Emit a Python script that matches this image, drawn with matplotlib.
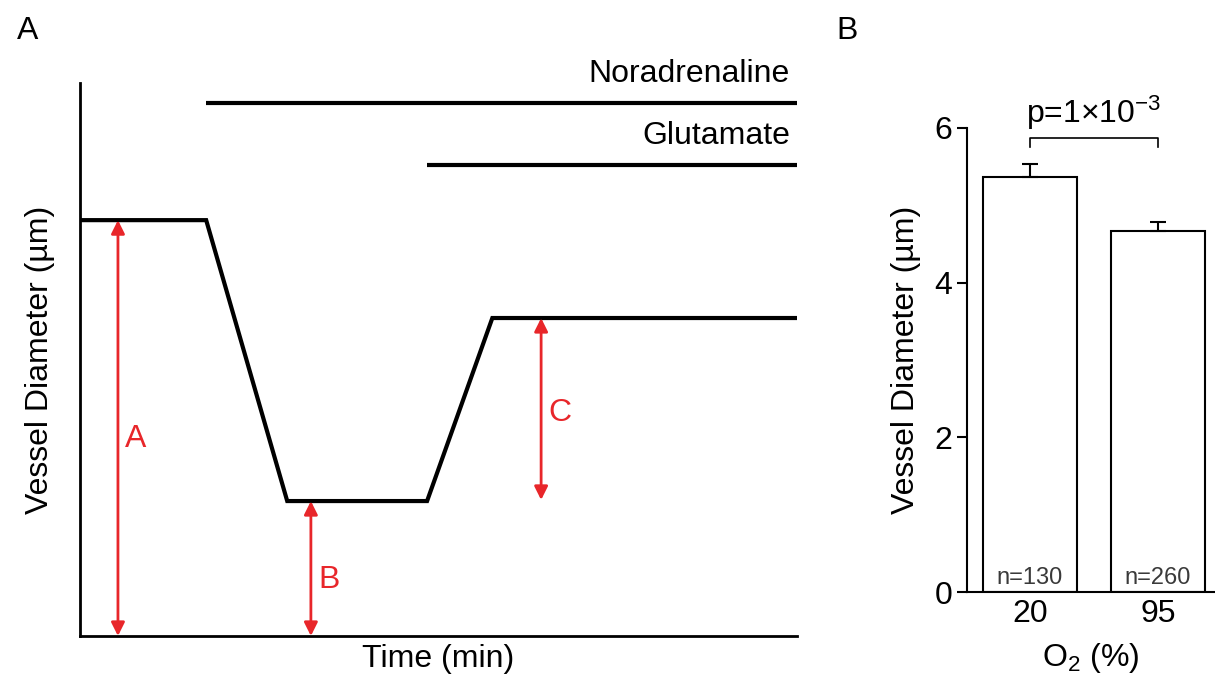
import numpy as np
import matplotlib
matplotlib.use("Agg")
import matplotlib.pyplot as plt

plt.rcParams['font.family'] = ['Liberation Sans', 'DejaVu Sans']
plt.rcParams['mathtext.fontset'] = 'custom'
plt.rcParams['mathtext.rm'] = 'Liberation Sans'
plt.rcParams['mathtext.it'] = 'Liberation Sans:italic'

# panel A: schematic trace
trace_t = [0, 1.76, 2.89, 4.84, 5.75, 10]
trace_d = [7.52, 7.52, 2.44, 2.44, 5.75, 5.75]
drug_names = ["Noradrenaline", "Glutamate"]
drug_start = [1.76, 4.84]
drug_level = [9.64, 8.52]
arrow_labels = ["A", "B", "C"]
arrow_t = [0.53, 3.22, 6.43]
arrow_lo = [0.0, 0.0, 2.46]
arrow_hi = [7.52, 2.44, 5.75]

# panel B: bars
o2_labels = ["20", "95"]
diam_mean = [5.37, 4.67]
diam_sem = [0.17, 0.12]
n_cells = [130, 260]
p_text = "p=1\u00d710$^{\\mathregular{-3}}$"

red = '#e8262a'
fs = 23
fig = plt.figure(figsize=(12.15, 6.9), dpi=100)

axA = fig.add_axes([0.0658, 0.0783, 0.5903, 0.8014])
axA.plot(trace_t, trace_d, color='black', lw=3, solid_joinstyle='miter')
for name, t0, lev in zip(drug_names, drug_start, drug_level):
    axA.plot([t0, 10], [lev, lev], color='black', lw=3, solid_capstyle='butt')
    axA.text(9.9, lev + 0.25, name, ha='right', va='bottom', fontsize=fs)
label_dy = {'A': -0.2, 'B': -0.2, 'C': -0.08}
for lab, t, lo, hi in zip(arrow_labels, arrow_t, arrow_lo, arrow_hi):
    axA.annotate('', xy=(t, lo), xytext=(t, hi),
                 arrowprops=dict(arrowstyle='<|-|>', color=red, lw=2,
                                 mutation_scale=20, shrinkA=0, shrinkB=0))
    axA.text(t + 0.1, (lo + hi) / 2 + label_dy[lab], lab, color=red,
             fontsize=fs, ha='left', va='center')
axA.set_xlim(0, 10)
axA.set_ylim(0, 10)
axA.set_xticks([])
axA.set_yticks([])
for s in ['top', 'right']:
    axA.spines[s].set_visible(False)
for s in ['left', 'bottom']:
    axA.spines[s].set_linewidth(2)
axA.set_xlabel('Time (min)', fontsize=fs, labelpad=6)
axA.set_ylabel('Vessel Diameter (\u00b5m)', fontsize=fs, labelpad=18)
fig.text(0.014, 0.955, 'A', fontsize=fs, va='center')

axB = fig.add_axes([0.796, 0.142, 0.204, 0.6725])
x = np.arange(len(o2_labels))
axB.bar(x, diam_mean, width=0.74, color='white', edgecolor='black', lw=1.5,
        yerr=[[0, 0], diam_sem], error_kw=dict(ecolor='black', elinewidth=1.5,
                                                capsize=6, capthick=1.5))
for xi, n in zip(x, n_cells):
    axB.text(xi, 0.04, f'n={n}', ha='center', va='bottom', fontsize=17, color='#3a3a3a')
yb = 5.87
axB.plot([0, 0, 1, 1], [yb - 0.12, yb, yb, yb - 0.12], color='black', lw=1.2)
axB.text(0.5, yb + 0.08, p_text, ha='center', va='bottom', fontsize=fs)
axB.set_xlim(-0.49, 1.445)
axB.set_ylim(0, 6)
axB.set_xticks(x)
axB.set_xticklabels(o2_labels, fontsize=fs)
axB.tick_params(axis='x', length=0, pad=5)
axB.set_yticks([0, 2, 4, 6])
axB.tick_params(axis='y', labelsize=fs, width=1.5, length=7)
for s in ['top', 'right']:
    axB.spines[s].set_visible(False)
for s in ['left', 'bottom']:
    axB.spines[s].set_linewidth(1.5)
axB.set_xlabel('O$_{\\mathregular{2}}$ (%)', fontsize=fs, labelpad=9)
axB.set_ylabel('Vessel Diameter (\u00b5m)', fontsize=fs, labelpad=10)
fig.text(0.688, 0.955, 'B', fontsize=fs, va='center')

fig.savefig('out.png', dpi=100)
